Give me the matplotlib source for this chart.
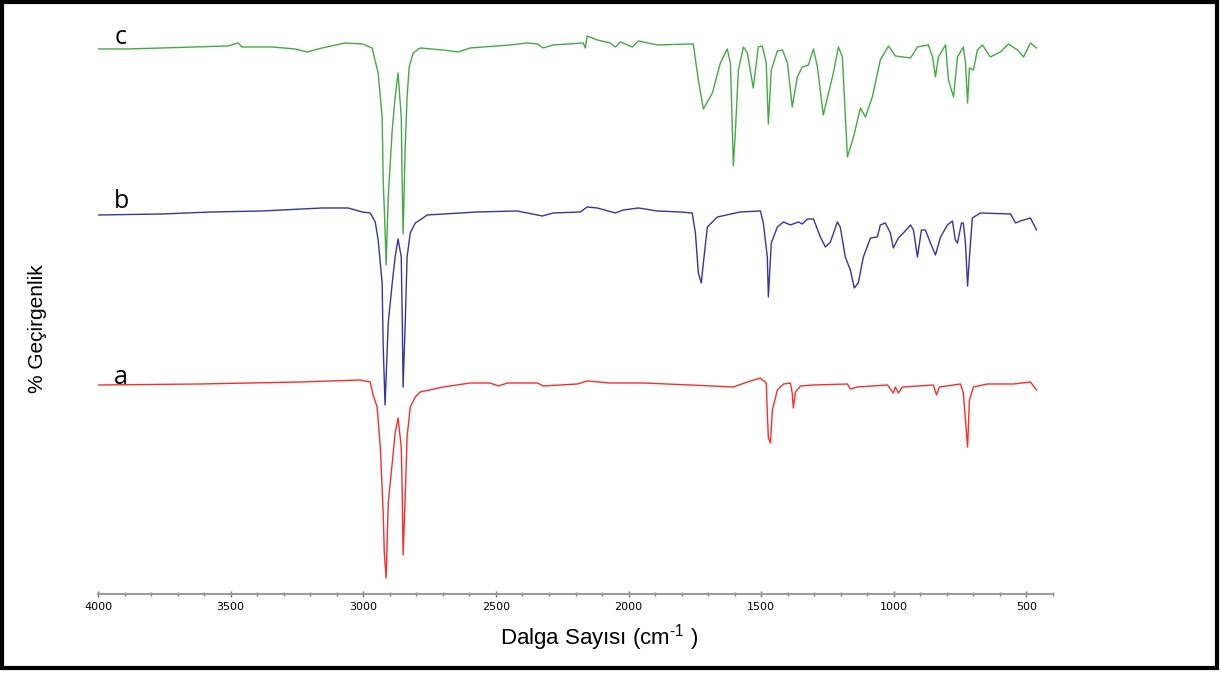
import matplotlib.pyplot as plt
from matplotlib.patches import Rectangle
from matplotlib.ticker import MultipleLocator

plt.rcParams['mathtext.fontset'] = 'custom'
plt.rcParams['mathtext.rm'] = 'Liberation Sans'

# %% data: wavenumber (cm-1) and relative transmittance
c_wn = [4000, 3887, 3759, 3634, 3510, 3472, 3457, 3344, 3257, 3212, 3155, 3068,
        3004, 2967, 2944, 2929, 2925, 2918, 2914, 2906, 2891, 2880, 2869, 2857,
        2853, 2850, 2842, 2835, 2827, 2812, 2786, 2699, 2642, 2597, 2446, 2382,
        2344, 2322, 2284, 2171, 2163, 2156, 2118, 2069, 2050, 2031, 1986, 1963,
        1892, 1767, 1756, 1737, 1718, 1684, 1654, 1628, 1616, 1609, 1605, 1597,
        1586, 1567, 1552, 1530, 1511, 1496, 1481, 1473, 1462, 1439, 1420, 1401,
        1383, 1364, 1345, 1322, 1303, 1288, 1266, 1228, 1209, 1194, 1175, 1152,
        1126, 1107, 1081, 1051, 1020, 994, 937, 911, 870, 854, 843, 832, 805,
        794, 775, 760, 738, 730, 722, 715, 700, 685, 666, 636, 598, 568, 534,
        511, 485, 462]
c_t = [97.5, 97.5, 98, 98.5, 99, 100.5, 98.5, 98.5, 97.5, 96, 98, 100.5,
       100, 98, 85.5, 63.5, 32, 7, -10.5, 23.5, 57, 73.5, 85.5, 63.5,
       27, 5, 48.5, 73.5, 88.5, 95.5, 98, 97, 96, 98, 99.5, 100.5,
       100, 98, 99.5, 100.5, 98, 104, 102, 100.5, 98.5, 101, 98.5, 101.5,
       99.5, 100, 100, 82, 67.5, 75.5, 90.5, 97.5, 90.5, 58.5, 39, 57,
       87, 98.5, 95.5, 78, 98.5, 99, 90.5, 60, 87, 96.5, 97, 90.5,
       68.5, 83.5, 88.5, 89.5, 97.5, 88.5, 64.5, 85.5, 98.5, 93.5, 43.5, 53.5,
       68, 63.5, 73.5, 92, 99, 94, 93, 98.5, 99.5, 93.5, 83.5, 93.5, 99.5,
       82, 73.5, 93.5, 98.5, 90.5, 70.5, 88, 87, 97, 99.5, 93.5, 96, 100, 97,
       93.5, 100.5, 98]

b_wn = [4000, 3759, 3570, 3381, 3155, 3057, 3004, 2974, 2955, 2944, 2929, 2925,
        2918, 2906, 2891, 2880, 2869, 2857, 2853, 2850, 2842, 2835, 2823, 2804,
        2786, 2759, 2571, 2420, 2325, 2284, 2182, 2156, 2118, 2050, 2020, 1963,
        1892, 1805, 1760, 1748, 1737, 1726, 1718, 1703, 1665, 1579, 1503, 1492,
        1477, 1473, 1462, 1439, 1416, 1390, 1360, 1345, 1326, 1303, 1277, 1258,
        1239, 1213, 1202, 1183, 1164, 1149, 1134, 1115, 1088, 1062, 1051, 1032,
        1013, 1002, 983, 964, 937, 926, 911, 896, 881, 862, 843, 824, 798, 779,
        768, 760, 745, 738, 730, 722, 715, 704, 673, 560, 541, 523, 485, 462]
b_t = [98.5, 99, 100, 100.5, 102, 102, 100, 99.5, 95, 86, 64.5, 32.5,
       3.5, 44.5, 64.5, 77.5, 86.5, 77.5, 44.5, 12.5, 44.5, 77.5, 89.5, 94.5,
       96, 98.5, 100, 100.5, 98, 99.5, 100, 102.5, 102, 99.5, 101, 102,
       100.5, 100, 99.5, 89.5, 69.5, 64.5, 74.5, 92.5, 97.5, 100, 100.5, 94.5,
       77.5, 57.5, 84.5, 92.5, 95, 93.5, 95, 94, 96.5, 96.5, 87.5, 82.5,
       85, 95, 92.5, 77.5, 71, 62, 64.5, 77.5, 87, 87.5, 93.5, 94.5,
       89.5, 82, 87, 89.5, 93.5, 91, 77.5, 91, 91, 84.5, 78.5, 87.5, 93.5, 95.5,
       86, 84.5, 94.5, 94.5, 84.5, 63, 77.5, 97, 99.5, 99, 94.5, 95.5, 97, 91]

a_wn = [4000, 3615, 3238, 3012, 2974, 2963, 2948, 2936, 2925, 2921, 2914, 2906,
        2891, 2880, 2869, 2857, 2853, 2850, 2842, 2835, 2823, 2804, 2786, 2699,
        2597, 2522, 2491, 2457, 2344, 2322, 2193, 2156, 2069, 1944, 1767, 1605,
        1552, 1503, 1481, 1477, 1473, 1465, 1458, 1439, 1416, 1390, 1383, 1379,
        1371, 1352, 1303, 1175, 1164, 1137, 1024, 1002, 994, 983, 968, 851, 839,
        828, 749, 738, 730, 722, 715, 700, 647, 549, 485, 462]
a_t = [99.5, 100, 101, 102, 101, 94.5, 88.5, 68.5, 35.5, 16, 3, 40.5,
       60.5, 75.5, 83, 68.5, 43.5, 14.5, 43.5, 73.5, 88.5, 93.5, 96, 98.5,
       100.5, 100.5, 99, 100.5, 100.5, 99, 100, 101.5, 100.5, 100.5, 99.5, 98.5,
       101, 103, 100.5, 85.5, 73, 70.5, 87, 97, 100, 100.5, 95.5, 88,
       96, 99, 99.5, 100, 97.5, 98.5, 99.5, 95.5, 98.5, 95.5, 98.5, 99.5, 94.5,
       98.5, 100, 95.5, 82, 68.5, 92, 98.5, 100, 100, 101, 97]

labels = ['a', 'b', 'c']
offsets = [0, 86, 170]          # vertical stacking of the three spectra
label_y = [103, 191, 273]       # where the curve letters sit
colors = ['#ff2a2a', '#3535a5', '#43aa43']

# %% plot
fig = plt.figure(figsize=(12.21, 6.77), dpi=100)
ax = fig.add_axes([0.0803, 0.1226, 0.7821, 0.8479])

for wn, t, off, col in zip([a_wn, b_wn, c_wn], [a_t, b_t, c_t], offsets, colors):
    ax.plot(wn, [v + off for v in t], color=col, lw=1.0)

ax.set_xlim(4000, 400)
ax.set_ylim(-5, 282)

for lab, ly in zip(labels, label_y):
    ax.text(3913, ly, lab, fontsize=18, family='Open Sans', ha='center', va='center')

for side in ['top', 'right', 'left']:
    ax.spines[side].set_visible(False)
ax.spines['bottom'].set_color('#9a9a9a')
ax.spines['bottom'].set_linewidth(1.4)
ax.set_yticks([])
ax.xaxis.set_major_locator(MultipleLocator(500))
ax.xaxis.set_minor_locator(MultipleLocator(100))
ax.tick_params(axis='x', which='major', direction='inout', length=5, width=1,
               color='#777777', pad=3, labelsize=8)
ax.tick_params(axis='x', which='minor', direction='inout', length=3, width=1,
               color='#777777')
for lbl in ax.get_xticklabels():
    lbl.set_family(['Liberation Sans Narrow', 'DejaVu Sans'])

ax.set_xlabel(r'Dalga Sayısı (cm$^{\text{-1}}$ )', fontsize=16, family='Liberation Sans',
              va='center')
ax.xaxis.set_label_coords(0.525, -0.075)
fig.text(0.031, 0.515, '% Geçirgenlik', rotation=90, fontsize=15,
         family='Liberation Sans', ha='center', va='center')

# black frame around the whole picture
fig.patches.append(Rectangle((0.0015, 0.0133), 0.9952, 0.9837, transform=fig.transFigure,
                             fill=False, edgecolor='black', linewidth=3))

fig.savefig('out.png', dpi=100)
